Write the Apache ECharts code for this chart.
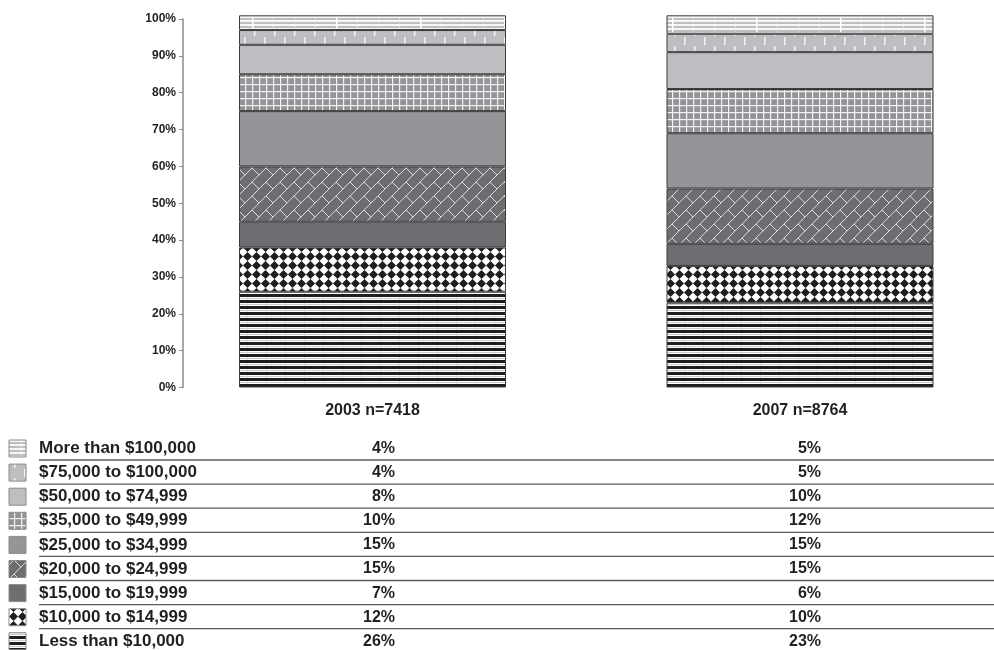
<!DOCTYPE html>
<html><head><meta charset="utf-8">
<script src="https://cdn.jsdelivr.net/npm/echarts@6/dist/echarts.min.js"></script>
<style>html,body{margin:0;padding:0;background:#fff}#c{width:994px;height:650px}</style>
</head><body><div id="c"></div>
<script>
// ---- data ----
const categories = ['2003 n=7418', '2007 n=8764'];
// table order (top to bottom)
const incomeLabels = ['More than $100,000', '$75,000 to $100,000', '$50,000 to $74,999', '$35,000 to $49,999',
  '$25,000 to $34,999', '$20,000 to $24,999', '$15,000 to $19,999', '$10,000 to $14,999', 'Less than $10,000'];
const values2003 = [4, 4, 8, 10, 15, 15, 7, 12, 26];
const values2007 = [5, 5, 10, 12, 15, 15, 6, 10, 23];
const yMin = 0, yMax = 100, yStep = 10;

// ---- patterns ----
function makeCanvas(w, h, draw) {
  const c = document.createElement('canvas'); c.width = w; c.height = h;
  const g = c.getContext('2d'); draw(g, w, h); return c;
}
const LIGHT = '#bdbec1', MED = '#949599', DARK = '#6d6e71';
const patternCanvases = {
  top: makeCanvas(84, 4, (g, w, h) => {
    g.fillStyle = LIGHT; g.fillRect(0, 0, w, h);
    g.fillStyle = '#f6f6f6'; g.fillRect(0, 0, w, 2);
    g.fillStyle = '#d6d7d9'; [21, 42, 63].forEach(x => g.fillRect(x, 2, 1, 2));
    g.fillStyle = '#ffffff'; g.fillRect(0, 0, 1.5, h);
  }),
  ticks: makeCanvas(20, 18, (g, w, h) => {
    g.fillStyle = LIGHT; g.fillRect(0, 0, w, h);
    g.fillStyle = '#f4f4f4'; g.fillRect(4, 1, 1.5, 8); g.fillRect(14, 10, 1.5, 8);
  }),
  light: makeCanvas(4, 4, (g, w, h) => { g.fillStyle = LIGHT; g.fillRect(0, 0, w, h); }),
  grid: makeCanvas(7, 7, (g, w, h) => {
    g.fillStyle = '#939498'; g.fillRect(0, 0, w, h);
    g.fillStyle = '#f2f2f2'; g.fillRect(0, 0, w, 1.2); g.fillRect(0, 0, 1.2, h);
  }),
  medium: makeCanvas(4, 4, (g, w, h) => { g.fillStyle = MED; g.fillRect(0, 0, w, h); }),
  brick: makeCanvas(14, 14, (g, w, h) => {
    g.fillStyle = DARK; g.fillRect(0, 0, w, h);
    g.strokeStyle = '#e6e6e6'; g.lineWidth = 0.9;
    g.beginPath();
    g.moveTo(-2, 16); g.lineTo(16, -2);
    g.moveTo(-2, 2); g.lineTo(2, -2);
    g.moveTo(12, 16); g.lineTo(16, 12);
    g.moveTo(0, 0); g.lineTo(7, 7);
    g.stroke();
  }),
  dark: makeCanvas(4, 4, (g, w, h) => { g.fillStyle = DARK; g.fillRect(0, 0, w, h); }),
  diamond: makeCanvas(9, 9, (g, w, h) => {
    g.fillStyle = '#ffffff'; g.fillRect(0, 0, w, h);
    g.fillStyle = '#1e1e1e';
    g.beginPath(); g.moveTo(4.5, 0); g.lineTo(9, 4.5); g.lineTo(4.5, 9); g.lineTo(0, 4.5); g.closePath(); g.fill();
  }),
  stripes: makeCanvas(19, 6, (g, w, h) => {
    g.fillStyle = '#ffffff'; g.fillRect(0, 0, w, h);
    g.fillStyle = '#1e1e1e'; g.fillRect(0, 0, w, 3);
    g.fillStyle = '#c8c8c8'; g.fillRect(0, 4, w, 1);
    g.fillStyle = '#dadada'; g.fillRect(0, 3, 1, 3);
  })
};
const patternKeys = ['top', 'ticks', 'light', 'grid', 'medium', 'brick', 'dark', 'diamond', 'stripes'];
const pat = k => ({ image: patternCanvases[k], repeat: 'repeat' });

// ---- series (stacked bottom to top) ----
const series = [];
for (let i = incomeLabels.length - 1; i >= 0; i--) {
  series.push({
    name: incomeLabels[i], type: 'bar', stack: 'total', barWidth: 267, clip: false,
    data: [values2003[i], values2007[i]],
    itemStyle: { color: pat(patternKeys[i]), borderColor: '#3a3a3a', borderWidth: 1 },
    emphasis: { disabled: true }, silent: true
  });
}

// ---- table below ----
const FONT = '"Liberation Sans", Arial, Helvetica, sans-serif';
const graphics = [];
const rowTop = 448.5, rowH = 24.1;
incomeLabels.forEach((lab, i) => {
  const cy = rowTop + i * rowH;
  graphics.push({ type: 'rect', shape: { x: 9, y: cy - 8.5, width: 17, height: 17 },
    style: { fill: pat(patternKeys[i]), stroke: '#8a8a8a', lineWidth: 1 }, silent: true });
  graphics.push({ type: 'text', x: 39, y: cy, style: { text: lab, font: 'bold 17px ' + FONT, fill: '#231f20', verticalAlign: 'middle', align: 'left' }, silent: true });
  graphics.push({ type: 'text', x: 395, y: cy, style: { text: values2003[i] + '%', font: 'bold 16px ' + FONT, fill: '#231f20', verticalAlign: 'middle', align: 'right' }, silent: true });
  graphics.push({ type: 'text', x: 821, y: cy, style: { text: values2007[i] + '%', font: 'bold 16px ' + FONT, fill: '#231f20', verticalAlign: 'middle', align: 'right' }, silent: true });
  if (i < incomeLabels.length - 1) {
    graphics.push({ type: 'line', shape: { x1: 39, y1: cy + 11.5, x2: 994, y2: cy + 11.5 },
      style: { stroke: '#5a5a5a', lineWidth: 1.3 }, silent: true });
  }
});

const chart = echarts.init(document.getElementById('c'), null, { renderer: 'canvas' });
chart.setOption({
  animation: false,
  backgroundColor: '#ffffff',
  grid: { left: 372.5, right: 194, top: 19, bottom: 262.5, containLabel: false, outerBoundsMode: 'none' },
  xAxis: {
    type: 'category', data: categories, boundaryGap: false,
    axisLine: { show: false }, axisTick: { show: false }, splitLine: { show: false },
    axisLabel: { color: '#231f20', fontFamily: FONT, fontWeight: 'bold', fontSize: 16, margin: 15 }
  },
  yAxis: {
    type: 'value', min: yMin, max: yMax, interval: yStep, offset: 189.5,
    axisLine: { show: true, lineStyle: { color: '#8a8a8a', width: 1.5 } },
    axisTick: { show: true, length: 4, lineStyle: { color: '#8a8a8a' } },
    splitLine: { show: false },
    axisLabel: { formatter: '{value}%', color: '#231f20', fontFamily: FONT, fontWeight: 'bold', fontSize: 12, margin: 7 }
  },
  series: series,
  graphic: graphics
});
</script></body></html>
